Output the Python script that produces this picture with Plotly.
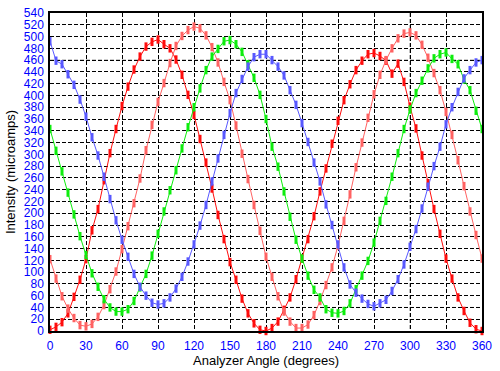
import plotly.graph_objects as go

angles = list(range(0, 361, 5))

red = [2, 7, 15, 30, 58, 87, 122, 171, 207, 256, 302, 343, 382, 415, 444,
       466, 483, 491, 495, 487, 480, 461, 435, 401, 367, 326, 286, 242, 197, 156,
       117, 87, 55, 30, 13, 2, 0, 5, 16, 36, 57, 88, 123, 156, 195,
       237, 276, 318, 357, 392, 419, 443, 459, 470, 472, 467, 459, 437, 454, 423,
       381, 344, 298, 251, 207, 165, 123, 89, 57, 34, 14, 3, 0]

pink = [122, 89, 59, 38, 22, 10, 8, 12, 24, 44, 71, 101, 139, 178, 217,
        259, 307, 350, 389, 421, 455, 484, 501, 511, 517, 514, 502, 482, 456, 423,
        392, 349, 301, 258, 214, 170, 126, 92, 59, 33, 16, 5, 5, 11, 27,
        51, 78, 108, 145, 187, 232, 278, 320, 362, 402, 435, 460, 480, 497, 505,
        507, 502, 486, 464, 438, 409, 372, 333, 290, 246, 203, 163, 123]

green = [343, 306, 271, 235, 198, 161, 129, 98, 75, 54, 40, 33, 33, 37, 51,
         74, 97, 128, 165, 203, 239, 273, 310, 346, 380, 412, 443, 466, 479, 492,
         494, 487, 474, 453, 430, 401, 360, 313, 279, 237, 194, 155, 123, 94, 70,
         57, 37, 31, 30, 34, 47, 71, 94, 119, 150, 187, 221, 262, 302, 343,
         376, 404, 425, 446, 463, 470, 473, 462, 453, 427, 409, 374, 343]

blue = [492, 459, 453, 436, 418, 393, 364, 329, 298, 262, 224, 188, 155, 126, 97,
        75, 60, 48, 45, 47, 57, 72, 92, 118, 147, 179, 214, 254, 293, 333,
        370, 404, 428, 449, 465, 470, 470, 460, 449, 434, 409, 384, 353, 321, 286,
        254, 215, 180, 147, 108, 79, 65, 55, 46, 42, 47, 53, 68, 88, 113,
        143, 173, 208, 245, 280, 313, 351, 380, 406, 429, 443, 456, 460]

x_ticks = list(range(0, 361, 30))
y_ticks = list(range(0, 541, 20))
gray_y = [40, 460]
gray_x = [300]

series = [
    ("red", red, "#ff0d0d"),
    ("pink", pink, "#ff6262"),
    ("green", green, "#0ded0d"),
    ("blue", blue, "#5858ff"),
]

fig = go.Figure()
for name, vals, col in series:
    fig.add_trace(go.Scatter(
        x=angles, y=vals, mode="lines+markers", name=name,
        line=dict(color=col, width=1),
        marker=dict(symbol="line-ns", size=6, color=col,
                    line=dict(color=col, width=3)),
        showlegend=False, cliponaxis=False,
    ))

dash = "4px,2px"
for v in gray_y:
    fig.add_shape(type="line", xref="paper", yref="y", x0=0, x1=1, y0=v, y1=v,
                  line=dict(color="#808080", width=1, dash=dash), layer="between")
for v in gray_x:
    fig.add_shape(type="line", xref="x", yref="paper", x0=v, x1=v, y0=1, y1=0,
                  line=dict(color="#808080", width=1, dash=dash), layer="between")

tickfont = dict(family="Liberation Sans, Arial, sans-serif", size=12, color="#0000ff")
titlefont = dict(family="Liberation Sans, Arial, sans-serif", size=13, color="#000000")

fig.update_layout(
    width=500, height=371,
    margin=dict(l=50, r=18, t=13, b=40),
    plot_bgcolor="white", paper_bgcolor="white",
    hovermode=False,
    xaxis=dict(range=[0, 360], tickvals=x_ticks, ticktext=[str(t) for t in x_ticks],
               showgrid=True, gridcolor="black", griddash=dash, gridwidth=1,
               showline=True, linecolor="black", linewidth=1.5, mirror=True,
               ticks="outside", ticklen=3, tickcolor="rgba(0,0,0,0)",
               tickfont=tickfont, zeroline=False, automargin=False,
               title=dict(text="Analyzer Angle (degrees)", font=titlefont, standoff=2)),
    yaxis=dict(range=[0, 540], tickvals=y_ticks, ticktext=[str(t) for t in y_ticks],
               showgrid=True, gridcolor="black", griddash=dash, gridwidth=1,
               showline=True, linecolor="black", linewidth=1.5, mirror=True,
               ticks="outside", ticklen=2, tickcolor="rgba(0,0,0,0)",
               tickfont=tickfont, zeroline=False, automargin=False,
               title=dict(text="Intensity (microamps)", font=titlefont, standoff=5)),
)

fig.write_html("out.html", config={"displayModeBar": False},
               post_script="document.body.style.margin='0';")
